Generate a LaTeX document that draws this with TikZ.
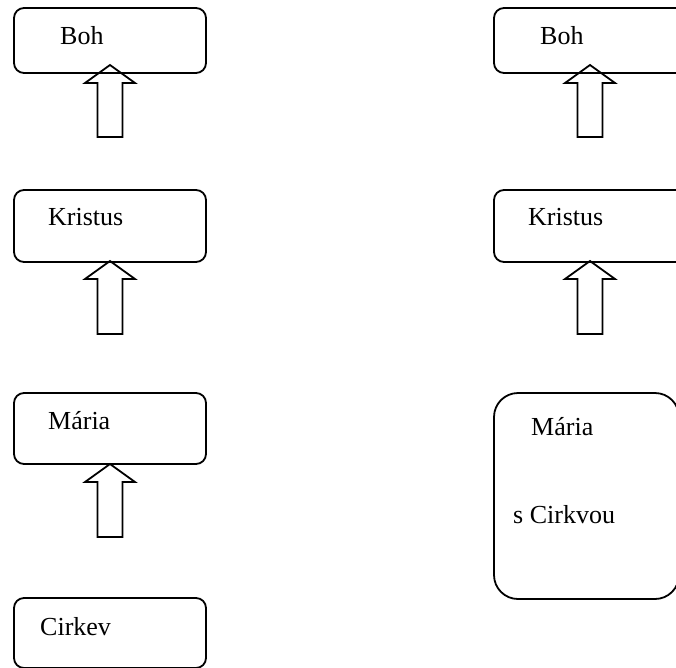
\documentclass[tikz,border=0pt]{standalone}
\usepackage{fontspec}
\setmainfont{Liberation Serif}
\begin{document}
\begin{tikzpicture}[x=1pt,y=-1pt,
  box/.style={draw,line width=1.8pt,rounded corners=10pt},
  bigbox/.style={draw,line width=1.8pt,rounded corners=24pt},
  lbl/.style={anchor=base west,inner sep=0pt,font=\fontsize{26}{30}\selectfont},
  blockarr/.style={draw,line width=1.8pt,line join=miter}]
\clip (0,0) rectangle (676,667);
% left column boxes
\draw[box] (14,8) rectangle (206,73);
\draw[box] (14,190) rectangle (206,262);
\draw[box] (14,393) rectangle (206,464);
\draw[box] (14,598) rectangle (206,668);
% right column boxes
\draw[box] (494,8) rectangle (688,73);
\draw[box] (494,190) rectangle (688,262);
\draw[bigbox] (494,393) rectangle (679,599);
% labels
\node[lbl] (t1) at (60,44) {Boh};
\node[lbl] (t2) at (48,225) {Kristus};
\node[lbl] (t3) at (48,429) {Mária};
\node[lbl] (t4) at (40,635) {Cirkev};
\node[lbl] (r1) at (540,44) {Boh};
\node[lbl] (r2) at (528,225) {Kristus};
\node[lbl] (r3) at (531,435) {Mária};
\node[lbl] (r4) at (513,523) {s Cirkvou};
% block arrows
\foreach \cx/\ty/\by [count=\i] in {110/65/137, 110/261/334, 110/464/537, 590/65/137, 590/261/334}{
  \coordinate (tip\i) at (\cx,\ty);
  \draw[blockarr] (tip\i) -- ++(25,18) -- ++(-12.5,0) -- (\cx+12.5,\by) -- (\cx-12.5,\by)
     -- (\cx-12.5,\ty+18) -- (\cx-25,\ty+18) -- cycle;
}
\end{tikzpicture}
\end{document}
